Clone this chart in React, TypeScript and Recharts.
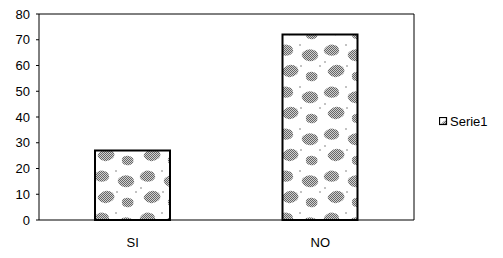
import React from "react";
import { BarChart, Bar, XAxis, YAxis, CartesianGrid } from "recharts";

const categories = ["SI", "NO"];
const serie1 = [27, 72];
const yTicks = [0, 10, 20, 30, 40, 50, 60, 70, 80];
const seriesName = "Serie1";

const data = categories.map((c, i) => ({ name: c, value: serie1[i] }));

const font = "Liberation Sans, Arial, sans-serif";

export default function App() {
  return (
    <div style={{ position: "absolute", left: 0, top: 0, width: 503, height: 258, background: "#fff" }}>
      <BarChart width={503} height={258} data={data} margin={{ top: 14, right: 89, bottom: 8, left: 0 }}>
        <defs>
          <pattern id="dither" width="2" height="2" patternUnits="userSpaceOnUse">
            <rect width="2" height="2" fill="#d0d0d0" />
            <rect width="1" height="1" fill="#666" />
            <rect x="1" y="1" width="1" height="1" fill="#666" />
          </pattern>
          <pattern id="blobs" width="46" height="42" patternUnits="userSpaceOnUse">
            <rect width="46" height="42" fill="#fff" />
            <path d="M3,6 Q8,0 15,4 Q20,9 14,13 Q8,15 4,12 Q0,9 3,6 Z" fill="url(#dither)" />
            <path d="M27,10 Q33,5 40,9 Q45,14 39,18 Q33,21 28,17 Q24,13 27,10 Z" fill="url(#dither)" />
            <path d="M8,26 Q14,20 21,25 Q25,31 18,34 Q11,37 7,32 Q4,29 8,26 Z" fill="url(#dither)" />
            <path d="M31,31 Q36,28 41,32 Q43,37 38,39 Q32,40 30,36 Q29,33 31,31 Z" fill="url(#dither)" />
            <circle cx="24" cy="3" r="0.8" fill="#777" />
            <circle cx="3" cy="20" r="0.8" fill="#777" />
            <circle cx="25" cy="24" r="0.8" fill="#777" />
            <circle cx="44" cy="24" r="0.8" fill="#777" />
          </pattern>
        </defs>
        <CartesianGrid
          stroke="#000"
          strokeWidth={1}
          fill="none"
          horizontalCoordinatesGenerator={({ offset }: any) => [offset.top]}
          verticalCoordinatesGenerator={({ offset }: any) => [offset.left + offset.width]}
        />
        <XAxis
          dataKey="name"
          tickLine={false}
          axisLine={{ stroke: "#000", strokeWidth: 1.2 }}
          tick={{ fill: "#000", fontSize: 13, fontFamily: font }}
          tickMargin={12}
        />
        <YAxis
          domain={[0, 80]}
          ticks={yTicks}
          width={39}
          tickSize={3}
          tickLine={{ stroke: "#000" }}
          axisLine={{ stroke: "#000", strokeWidth: 1 }}
          tick={{ fill: "#000", fontSize: 13, fontFamily: font }}
          tickMargin={6}
        />
        <Bar dataKey="value" name={seriesName} barSize={75} fill="url(#blobs)" stroke="#000" strokeWidth={2} isAnimationActive={false} />
      </BarChart>
      <div style={{ position: "absolute", left: 439, top: 114, display: "flex", alignItems: "center", fontFamily: font, fontSize: 13, color: "#000" }}>
        <svg width={9} height={9} style={{ marginRight: 2 }}>
          <rect x={0.5} y={0.5} width={7} height={7} fill="url(#blobs)" stroke="#000" strokeWidth={1.2} />
        </svg>
        <span>{seriesName}</span>
      </div>
    </div>
  );
}
